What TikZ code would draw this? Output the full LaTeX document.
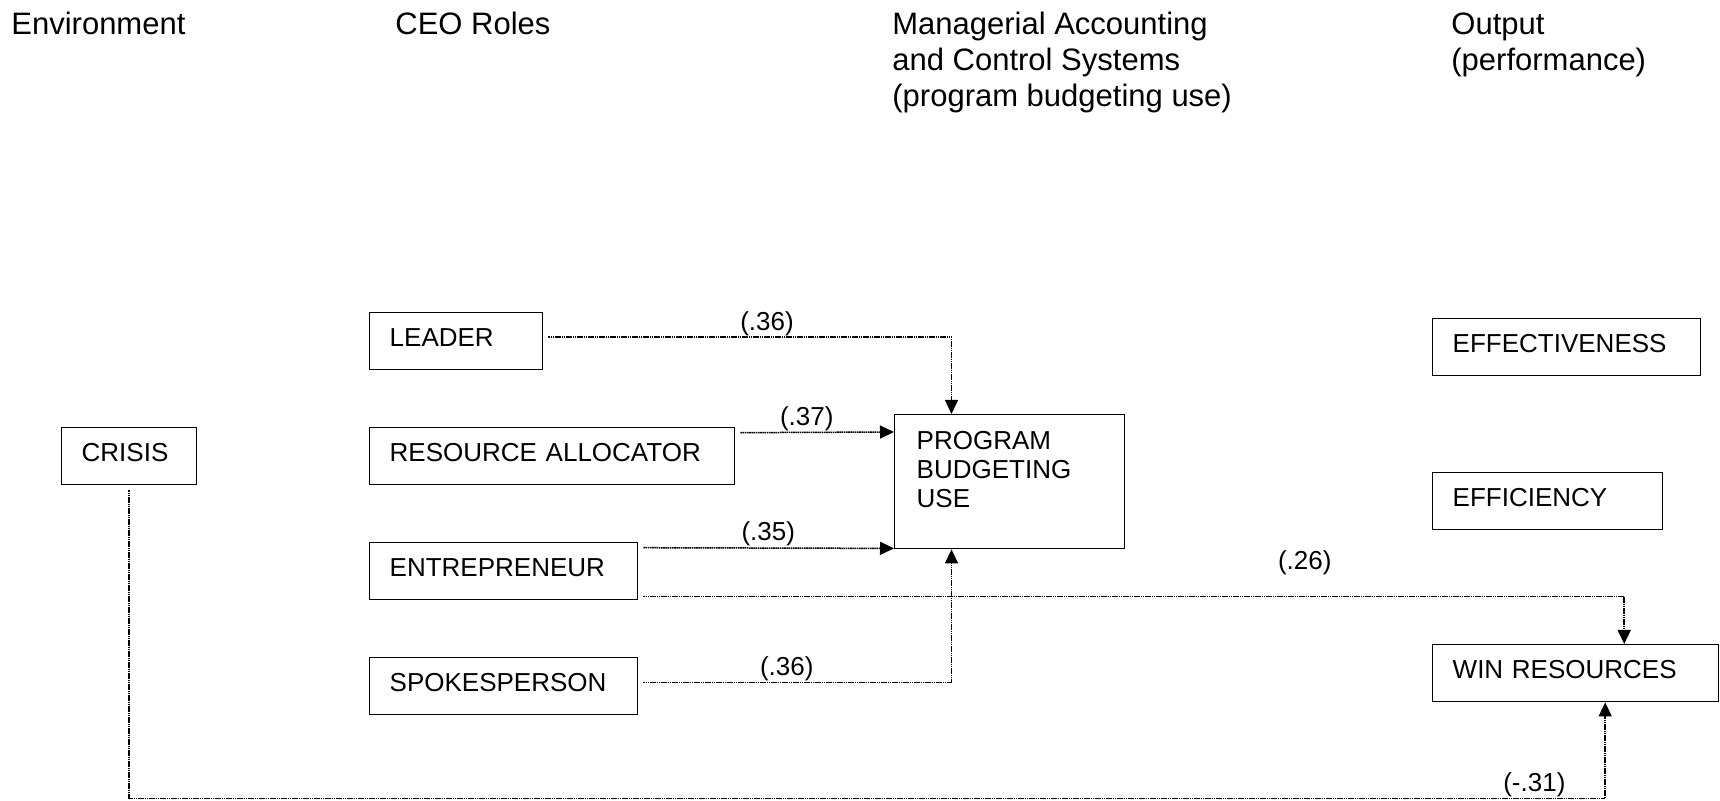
\documentclass[tikz,border=0pt]{standalone}
\usepackage{fontspec}
\setmainfont{Liberation Sans}
\usetikzlibrary{arrows.meta}
\tikzset{
	>={Triangle[length=7pt, width=6.5pt]}, % punta triangular rellena
	caja/.style={draw, line width=0.7pt, anchor=north west, align=left, inner xsep=10pt,
		minimum height=28.5pt, text depth=4pt, font=\fontsize{13}{14.5}\selectfont}, % cajas de los conceptos
	titulo/.style={anchor=north west, inner sep=0pt, align=left,
		font=\fontsize{15.5}{18}\selectfont}, % encabezados de columna
	flecha/.style={->, line width=0.75pt, dash pattern=on 0.8pt off 0.3pt, shorten <=2.5pt}, % relaciones
	coef/.style={inner sep=0.5pt, font=\fontsize{13}{14.5}\selectfont} % coeficientes
}

\begin{document}
\begin{tikzpicture}[x=0.5pt, y=-0.5pt]
	\useasboundingbox (0,0) rectangle (1720,801);
	% encabezados
	\node[titulo] (h1) at (11,12) {Environment};
	\node[titulo] (h2) at (395,12) {CEO Roles};
	\node[titulo] (h3) at (892,12) {Managerial Accounting\\and Control Systems\\(program budgeting use)};
	\node[titulo] (h4) at (1451,12) {Output\\(performance)};
	% cajas
	\node[caja, text width=47.5pt] (crisis) at (61,427) {CRISIS};
	\node[caja, text width=66.5pt] (leader) at (369,312) {LEADER};
	\node[caja, text width=162.5pt] (alloc) at (369,427) {RESOURCE ALLOCATOR};
	\node[caja, text width=114pt] (entre) at (369,542) {ENTREPRENEUR};
	\node[caja, text width=114pt] (spokes) at (369,657) {SPOKESPERSON};
	\node[caja, text width=93pt, inner xsep=11pt, inner ysep=8pt, minimum height=67pt,
		text depth=41.5pt] (pbu) at (894,414) {PROGRAM\\BUDGETING\\USE};
	\node[caja, text width=114pt] (effect) at (1432,318) {EFFECTIVENESS};
	\node[caja, text width=95pt] (effic) at (1432,472) {EFFICIENCY};
	\node[caja, text width=123pt] (win) at (1432,644) {WIN RESOURCES};
	% relaciones
	\draw[flecha] ([yshift=2pt]leader.east) -| node[coef, above, pos=0.274] (r1) {(.36)}
		([xshift=28.75pt]pbu.north west);
	\draw[flecha] ([yshift=11.75pt]alloc.east) -- node[coef, above, pos=0.45] (r2) {(.37)}
		([yshift=-9pt]pbu.north west);
	\draw[flecha] ([yshift=11.75pt]entre.east) -- node[coef, above, pos=0.508] (r3) {(.35)}
		([yshift=0.5pt]pbu.south west);
	\draw[flecha] ([yshift=-12.75pt]entre.east) -| node[coef, above=10pt, pos=0.338] (r4) {(.26)}
		([xshift=24.25pt]win.north);
	\draw[flecha] ([yshift=1.75pt]spokes.east) -| node[coef, above, pos=0.237] (r5) {(.36)}
		([xshift=28.75pt]pbu.south west);
	\draw[flecha] (crisis.south) -- ++(0,313) -| node[coef, above, pos=0.476] (r6) {(-.31)}
		([xshift=14.75pt]win.south);
\end{tikzpicture}
\end{document}
